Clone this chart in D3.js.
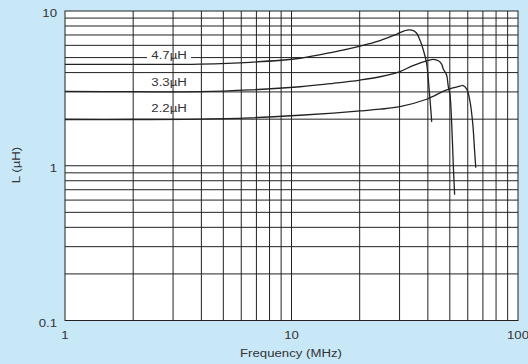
<!DOCTYPE html>
<html><head><meta charset="utf-8">
<script src="https://cdn.jsdelivr.net/npm/d3@7"></script>
<style>html,body{margin:0;padding:0;background:#c8e8f8;}svg{display:block;}</style>
</head><body>
<svg id="c" width="528" height="364"></svg>
<script>
// ---- data ----
const seriesNames = ["4.7µH", "3.3µH", "2.2µH"];
const freq47 = [1, 2, 3.95, 6.56, 10.9, 15.3, 20.1, 24.6, 28.6, 30.1, 32.8, 34.5, 35.7, 36.9, 38.2, 39.5, 40.2, 40.9, 41.6];
const ind47  = [4.52, 4.52, 4.54, 4.66, 4.95, 5.43, 5.94, 6.44, 7.00, 7.24, 7.54, 7.46, 7.18, 6.49, 5.60, 4.59, 3.58, 2.66, 1.92];
const freq33 = [1, 2, 3.95, 6.56, 10.9, 15.3, 20.1, 24.6, 30.1, 34.4, 40.2, 42.3, 44.5, 46.0, 46.8, 48.4, 49.2, 50.1, 51.0, 51.8, 52.5];
const ind33  = [3.02, 3.01, 3.01, 3.09, 3.24, 3.41, 3.58, 3.76, 4.06, 4.44, 4.80, 4.87, 4.77, 4.54, 4.22, 3.86, 3.27, 2.86, 1.83, 1.01, 0.65];
const freq22 = [1, 2, 3.95, 6.56, 10.9, 15.3, 20.1, 24.6, 30.1, 39.5, 48.4, 55.5, 57.2, 59.4, 61.4, 63.1, 64.3, 65.1];
const ind22  = [1.99, 1.99, 2.00, 2.04, 2.12, 2.19, 2.26, 2.32, 2.41, 2.69, 3.09, 3.27, 3.30, 3.13, 2.60, 1.89, 1.26, 0.97];
const labelFreq = [2.88, 2.88, 2.88];
const labelInd  = [5.19, 3.50, 2.35];
const xTicks = [1, 10, 100];
const xTickLabels = ["1", "10", "100"];
const yTicks = [0.1, 1, 10];
const yTickLabels = ["0.1", "1", "10"];
const xTitle = "Frequency (MHz)";
const yTitle = "L (µH)";

// ---- drawing ----
const svg = d3.select("#c");
const W = 528, H = 364;
svg.append("rect").attr("width", W).attr("height", H).attr("fill", "#c8e8f8");
const x = d3.scaleLog().domain([1, 100]).range([65, 518]);
const y = d3.scaleLog().domain([0.1, 10]).range([320.5, 11]);
const ink = "#222";
const txt = "#333";
const font = "'Liberation Sans', Arial, Helvetica, sans-serif";
const SX = 1.15;

svg.append("rect").attr("x", x(1)).attr("y", y(10))
  .attr("width", x(100) - x(1)).attr("height", y(0.1) - y(10)).attr("fill", "#fff");

const minorX = [], minorY = [];
[1, 10].forEach(d => { for (let k = 2; k <= 9; k++) minorX.push(k * d); });
[0.1, 1].forEach(d => { for (let k = 2; k <= 9; k++) minorY.push(k * d); });

// horizontal gridlines
svg.append("g").selectAll("line").data(minorY.concat([1])).join("line")
  .attr("x1", x(1)).attr("x2", x(100))
  .attr("y1", d => y(d)).attr("y2", d => y(d))
  .attr("stroke", ink).attr("stroke-width", 1);

// label backgrounds
const lab = svg.append("g");
seriesNames.forEach((n, i) => {
  lab.append("rect").attr("x", x(labelFreq[i]) - 22).attr("y", y(labelInd[i]) - 6)
    .attr("width", 44).attr("height", 12).attr("fill", "#fff");
});

// vertical gridlines
svg.append("g").selectAll("line").data(minorX.concat([10])).join("line")
  .attr("y1", y(10)).attr("y2", y(0.1))
  .attr("x1", d => x(d)).attr("x2", d => x(d))
  .attr("stroke", ink).attr("stroke-width", 1);

// frame
svg.append("rect").attr("x", x(1)).attr("y", y(10))
  .attr("width", x(100) - x(1)).attr("height", y(0.1) - y(10))
  .attr("fill", "none").attr("stroke", ink).attr("stroke-width", 1);

// curves
const line = d3.line().x(d => x(d[0])).y(d => y(d[1])).curve(d3.curveCatmullRom.alpha(0.5));
[[freq47, ind47], [freq33, ind33], [freq22, ind22]].forEach(([f, v]) => {
  svg.append("path").datum(f.map((ff, i) => [ff, v[i]]))
    .attr("d", line).attr("fill", "none").attr("stroke", ink).attr("stroke-width", 1.3);
});

function stext(px, py, str, anchor, size, rot) {
  const g = svg.append("g").attr("transform",
    `translate(${px},${py})` + (rot ? ` rotate(${rot})` : "") + ` scale(${SX},1)`);
  g.append("text").attr("text-anchor", anchor).attr("font-family", font)
    .attr("font-size", size).attr("fill", txt).text(str);
}

// series labels
seriesNames.forEach((n, i) => stext(x(labelFreq[i]), y(labelInd[i]) + 4, n, "middle", 11.5));

// tick labels
yTicks.forEach((t, i) => stext(57, y(t) + 6, yTickLabels[i], "end", 11.5));
xTicks.forEach((t, i) => stext(x(t), 339, xTickLabels[i], "middle", 11.5));

// titles
stext(291, 357, xTitle, "middle", 11.5);
stext(19.5, 165, yTitle, "middle", 11.5, -90);
</script>
</body></html>
